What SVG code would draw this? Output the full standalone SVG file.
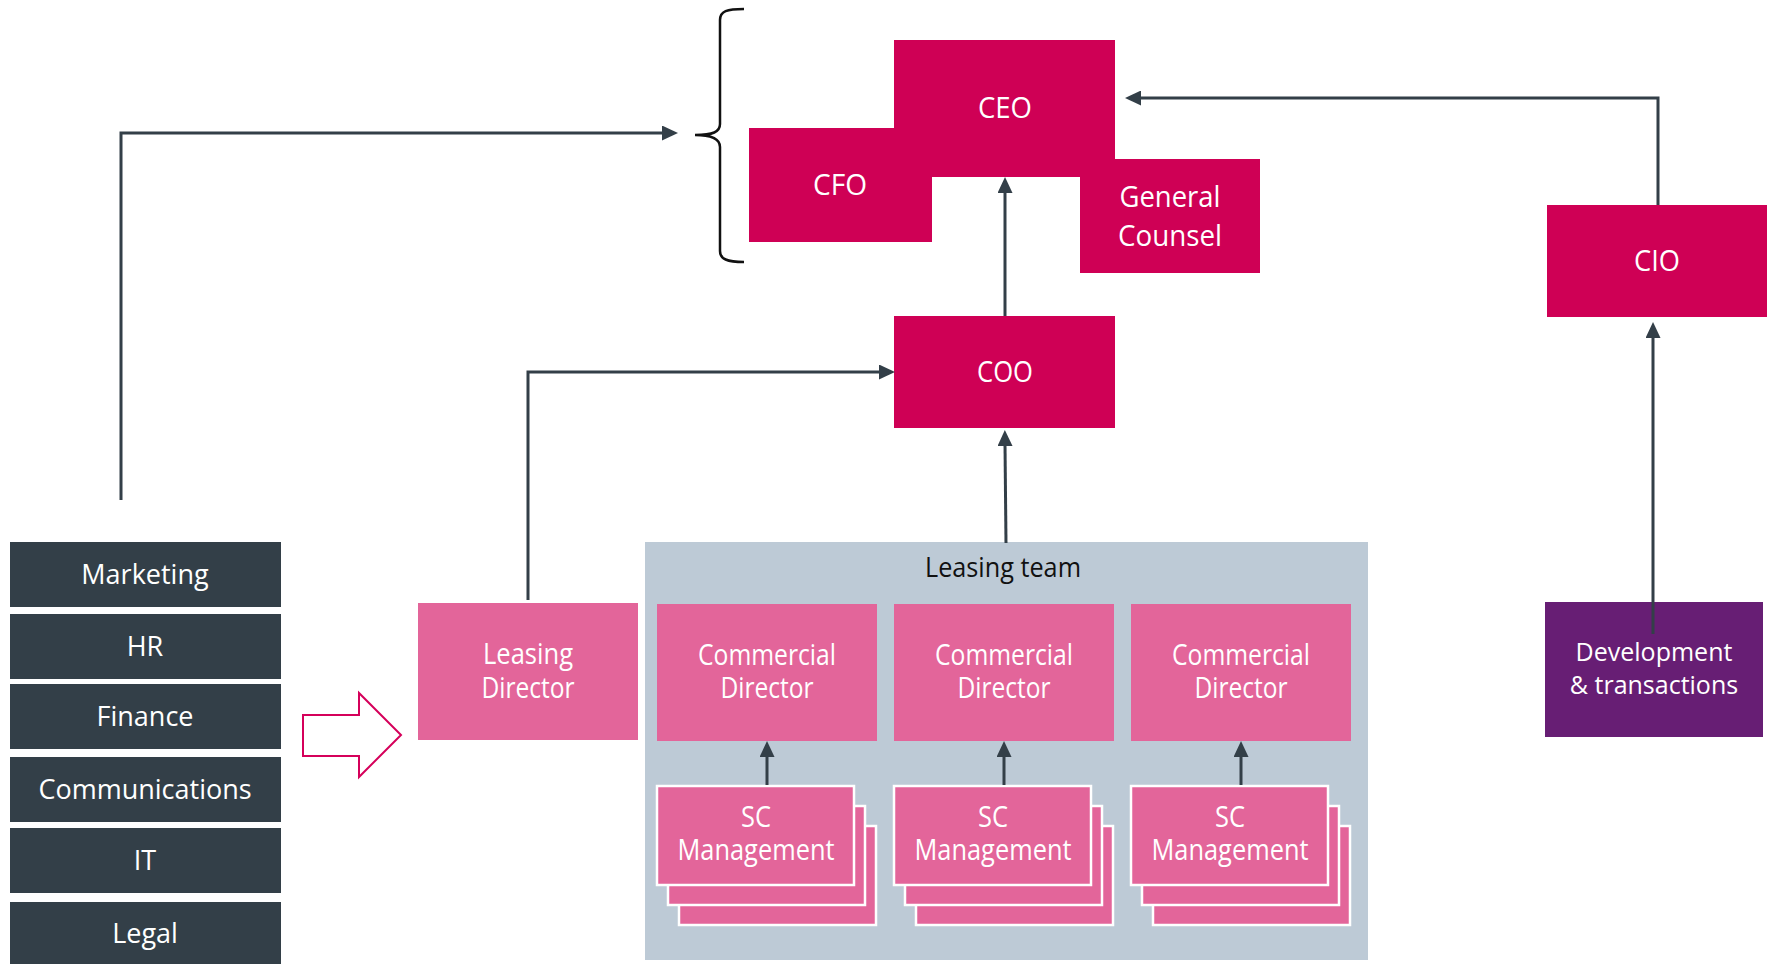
<svg xmlns="http://www.w3.org/2000/svg" width="1773" height="964" viewBox="0 0 1773 964">
  <style>
    .exec { fill: #cf0055; }
    .pink { fill: #e3659a; }
    .dev { fill: #671e74; }
    .dept { fill: #333f48; }
    .team { fill: #bdcad6; }
    .sc { fill: #e3659a; stroke: #ffffff; stroke-width: 2.5; }
    .t { font-family: "Open Sans", "Liberation Sans", sans-serif; fill: #ffffff; text-anchor: middle; }
    .big { font-size: 30px; }
    .mid { font-size: 27px; }
    .dv { font-size: 25px; }
    .lbl { font-family: "Open Sans", "Liberation Sans", sans-serif; font-size: 27px; fill: #111111; text-anchor: middle; }
    .link { fill: none; stroke: #333f48; stroke-width: 3; marker-end: url(#tip); }
  </style>
  <defs>
    <marker id="tip" markerUnits="userSpaceOnUse" markerWidth="16" markerHeight="15" refX="2" refY="7.5" orient="auto">
      <path d="M0,0 L16,7.5 L0,15 z" fill="#333f48"/>
    </marker>
  </defs>

  <rect width="1773" height="964" fill="#ffffff"/>

  <!-- leasing team container -->
  <g id="leasing-team">
    <rect class="team" x="645" y="542" width="723" height="418"/>
    <text class="lbl" x="1003" y="577" textLength="156" lengthAdjust="spacingAndGlyphs">Leasing team</text>
  </g>

  <!-- executive block -->
  <g id="cfo">
    <rect class="exec" x="749" y="128" width="183" height="114"/>
    <text class="t big" x="840" y="195" textLength="54" lengthAdjust="spacingAndGlyphs">CFO</text>
  </g>
  <g id="general-counsel">
    <rect class="exec" x="1080" y="159" width="180" height="114"/>
    <text class="t big" x="1170" y="207" textLength="101" lengthAdjust="spacingAndGlyphs">General</text>
    <text class="t big" x="1170" y="246" textLength="104" lengthAdjust="spacingAndGlyphs">Counsel</text>
  </g>
  <g id="ceo">
    <rect class="exec" x="894" y="40" width="221" height="137"/>
    <text class="t big" x="1005" y="118" textLength="54" lengthAdjust="spacingAndGlyphs">CEO</text>
  </g>
  <g id="coo">
    <rect class="exec" x="894" y="316" width="221" height="112"/>
    <text class="t big" x="1005" y="382" textLength="56" lengthAdjust="spacingAndGlyphs">COO</text>
  </g>
  <g id="cio">
    <rect class="exec" x="1547" y="205" width="220" height="112"/>
    <text class="t big" x="1657" y="271" textLength="46" lengthAdjust="spacingAndGlyphs">CIO</text>
  </g>
  <g id="development">
    <rect class="dev" x="1545" y="602" width="218" height="135"/>
    <text class="t dv" x="1654" y="661">Development</text>
    <text class="t dv" x="1654" y="694">&amp; transactions</text>
  </g>

  <!-- bracket grouping the executive block -->
  <path id="bracket" d="M744,9 C727,9 720,11 720,20 V124 C720,132 713,135 695,135 C713,135 720,139 720,147 V251 C720,259 727,262 744,262" fill="none" stroke="#111111" stroke-width="2.5"/>

  <!-- leasing director -->
  <g id="leasing-director">
    <rect class="pink" x="418" y="603" width="220" height="137"/>
    <text class="t big" x="528" y="664" textLength="90" lengthAdjust="spacingAndGlyphs">Leasing</text>
    <text class="t big" x="528" y="698" textLength="93" lengthAdjust="spacingAndGlyphs">Director</text>
  </g>

  <!-- commercial directors -->
  <g id="commercial-director-1">
    <rect class="pink" x="657" y="604" width="220" height="137"/>
    <text class="t big" x="767" y="665" textLength="138" lengthAdjust="spacingAndGlyphs">Commercial</text>
    <text class="t big" x="767" y="698" textLength="93" lengthAdjust="spacingAndGlyphs">Director</text>
  </g>
  <g id="commercial-director-2">
    <rect class="pink" x="894" y="604" width="220" height="137"/>
    <text class="t big" x="1004" y="665" textLength="138" lengthAdjust="spacingAndGlyphs">Commercial</text>
    <text class="t big" x="1004" y="698" textLength="93" lengthAdjust="spacingAndGlyphs">Director</text>
  </g>
  <g id="commercial-director-3">
    <rect class="pink" x="1131" y="604" width="220" height="137"/>
    <text class="t big" x="1241" y="665" textLength="138" lengthAdjust="spacingAndGlyphs">Commercial</text>
    <text class="t big" x="1241" y="698" textLength="93" lengthAdjust="spacingAndGlyphs">Director</text>
  </g>

  <!-- shopping centre management stacks -->
  <g id="sc-management-1">
    <rect class="sc" x="679" y="826" width="197" height="99"/>
    <rect class="sc" x="668" y="806" width="197" height="99"/>
    <rect class="sc" x="657" y="786" width="197" height="99"/>
    <text class="t big" x="756" y="827" textLength="30" lengthAdjust="spacingAndGlyphs">SC</text>
    <text class="t big" x="756" y="860" textLength="157" lengthAdjust="spacingAndGlyphs">Management</text>
  </g>
  <g id="sc-management-2">
    <rect class="sc" x="916" y="826" width="197" height="99"/>
    <rect class="sc" x="905" y="806" width="197" height="99"/>
    <rect class="sc" x="894" y="786" width="197" height="99"/>
    <text class="t big" x="993" y="827" textLength="30" lengthAdjust="spacingAndGlyphs">SC</text>
    <text class="t big" x="993" y="860" textLength="157" lengthAdjust="spacingAndGlyphs">Management</text>
  </g>
  <g id="sc-management-3">
    <rect class="sc" x="1153" y="826" width="197" height="99"/>
    <rect class="sc" x="1142" y="806" width="197" height="99"/>
    <rect class="sc" x="1131" y="786" width="197" height="99"/>
    <text class="t big" x="1230" y="827" textLength="30" lengthAdjust="spacingAndGlyphs">SC</text>
    <text class="t big" x="1230" y="860" textLength="157" lengthAdjust="spacingAndGlyphs">Management</text>
  </g>

  <!-- support departments -->
  <g id="marketing">
    <rect class="dept" x="10" y="542" width="271" height="65"/>
    <text class="t mid" x="145" y="584">Marketing</text>
  </g>
  <g id="hr">
    <rect class="dept" x="10" y="614" width="271" height="65"/>
    <text class="t mid" x="145" y="656">HR</text>
  </g>
  <g id="finance">
    <rect class="dept" x="10" y="684" width="271" height="65"/>
    <text class="t mid" x="145" y="726">Finance</text>
  </g>
  <g id="communications">
    <rect class="dept" x="10" y="757" width="271" height="65"/>
    <text class="t mid" x="145" y="799">Communications</text>
  </g>
  <g id="it">
    <rect class="dept" x="10" y="828" width="271" height="65"/>
    <text class="t mid" x="145" y="870">IT</text>
  </g>
  <g id="legal">
    <rect class="dept" x="10" y="902" width="271" height="65"/>
    <text class="t mid" x="145" y="943">Legal</text>
  </g>

  <!-- hollow transfer arrow -->
  <path id="transfer-arrow" d="M303,715 H359 V693 L401,735 L359,777 V756 H303 z" fill="#ffffff" stroke="#d5005a" stroke-width="2"/>

  <!-- reporting lines -->
  <g id="connectors">
    <path class="link" d="M121,500 V133 H664"/>
    <path class="link" d="M528,600 V372 H881"/>
    <path class="link" d="M1006,543 L1005,444"/>
    <path class="link" d="M1005,316 V191"/>
    <path class="link" d="M1658,205 V98 H1139"/>
    <path class="link" d="M1653,634 V336"/>
    <path class="link" d="M767,785 V755"/>
    <path class="link" d="M1004,785 V755"/>
    <path class="link" d="M1241,785 V755"/>
  </g>
</svg>
